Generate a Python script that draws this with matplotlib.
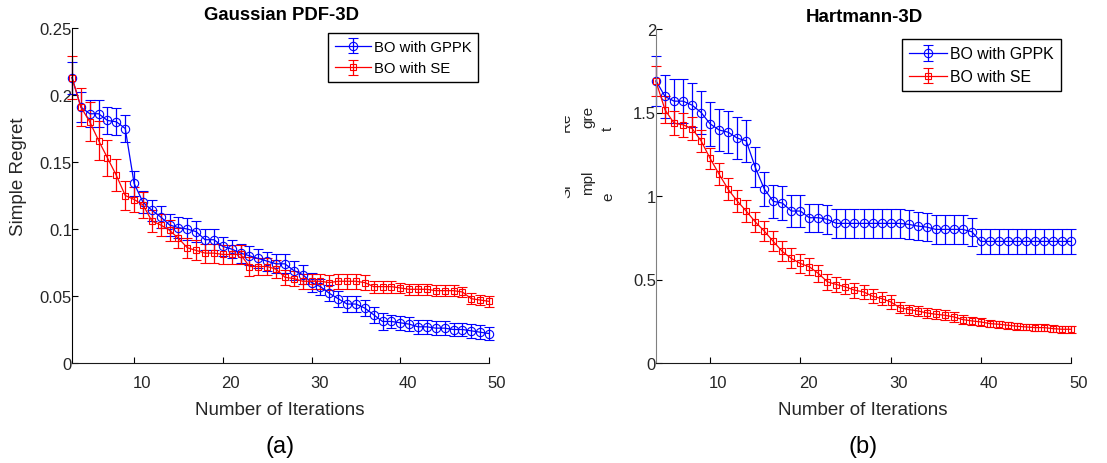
import matplotlib
matplotlib.use("Agg")
import matplotlib.pyplot as plt
from matplotlib.transforms import ScaledTranslation, Bbox, TransformedBbox

plt.rcParams['font.family'] = ['Liberation Sans', 'DejaVu Sans']

# ---- data: (a) Gaussian PDF-3D ----
iters_a = list(range(3, 51))
gppk_a = [0.213, 0.191, 0.186, 0.186, 0.181, 0.180, 0.175, 0.134, 0.120, 0.114,
          0.109, 0.103, 0.101, 0.100, 0.098, 0.092, 0.092, 0.087, 0.085, 0.082,
          0.080, 0.078, 0.076, 0.074, 0.074, 0.069, 0.066, 0.060, 0.057, 0.052,
          0.048, 0.044, 0.044, 0.041, 0.036, 0.031, 0.031, 0.030, 0.029, 0.027,
          0.027, 0.026, 0.026, 0.025, 0.025, 0.024, 0.023, 0.022]
gppk_a_err = [0.012, 0.011, 0.010, 0.010, 0.010, 0.010, 0.010, 0.009, 0.008, 0.008,
              0.008, 0.008, 0.008, 0.008, 0.008, 0.008, 0.008, 0.007, 0.007, 0.007,
              0.007, 0.007, 0.007, 0.007, 0.007, 0.007, 0.007, 0.007, 0.006, 0.006,
              0.006, 0.006, 0.006, 0.006, 0.006, 0.006, 0.005, 0.005, 0.005, 0.005,
              0.005, 0.005, 0.005, 0.005, 0.005, 0.005, 0.005, 0.005]
se_a = [0.213, 0.191, 0.180, 0.166, 0.153, 0.140, 0.125, 0.122, 0.118, 0.106,
        0.103, 0.099, 0.093, 0.086, 0.084, 0.082, 0.082, 0.081, 0.081, 0.081,
        0.072, 0.072, 0.072, 0.070, 0.064, 0.063, 0.061, 0.061, 0.061, 0.060,
        0.061, 0.061, 0.061, 0.060, 0.057, 0.057, 0.057, 0.056, 0.055, 0.055,
        0.055, 0.054, 0.054, 0.054, 0.053, 0.048, 0.047, 0.046]
se_a_err = [0.016, 0.0145, 0.0145, 0.0145, 0.0135, 0.012, 0.0105, 0.0095, 0.0095, 0.008,
            0.008, 0.008, 0.0075, 0.0075, 0.0075, 0.007, 0.007, 0.007, 0.007, 0.007,
            0.007, 0.0065, 0.0065, 0.0065, 0.0055, 0.0055, 0.0055, 0.0055, 0.0055, 0.0055,
            0.0055, 0.0055, 0.0055, 0.0055, 0.0045, 0.0045, 0.0045, 0.004, 0.004, 0.004,
            0.004, 0.004, 0.004, 0.004, 0.004, 0.004, 0.004, 0.004]

# ---- data: (b) Hartmann-3D ----
iters_b = list(range(4, 51))
gppk_b = [1.690, 1.596, 1.568, 1.568, 1.544, 1.500, 1.432, 1.395, 1.382, 1.347,
          1.330, 1.172, 1.042, 0.968, 0.958, 0.910, 0.910, 0.870, 0.870, 0.860,
          0.836, 0.836, 0.836, 0.836, 0.836, 0.836, 0.836, 0.836, 0.830, 0.820,
          0.814, 0.800, 0.800, 0.800, 0.800, 0.786, 0.728, 0.728, 0.728, 0.728,
          0.728, 0.728, 0.728, 0.728, 0.728, 0.728, 0.728]
gppk_b_err = [0.150, 0.130, 0.130, 0.130, 0.130, 0.130, 0.130, 0.125, 0.125, 0.125,
              0.125, 0.120, 0.100, 0.100, 0.100, 0.095, 0.095, 0.085, 0.085, 0.085,
              0.085, 0.085, 0.085, 0.085, 0.085, 0.085, 0.085, 0.085, 0.085, 0.085,
              0.085, 0.085, 0.085, 0.085, 0.085, 0.085, 0.075, 0.075, 0.075, 0.075,
              0.075, 0.075, 0.075, 0.075, 0.075, 0.075, 0.075]
se_b = [1.686, 1.516, 1.436, 1.426, 1.404, 1.330, 1.225, 1.130, 1.040, 0.970,
        0.910, 0.845, 0.790, 0.728, 0.668, 0.626, 0.596, 0.576, 0.536, 0.486,
        0.470, 0.456, 0.436, 0.426, 0.400, 0.386, 0.366, 0.332, 0.320, 0.312,
        0.300, 0.292, 0.286, 0.276, 0.260, 0.252, 0.246, 0.236, 0.232, 0.226,
        0.220, 0.216, 0.212, 0.212, 0.206, 0.202, 0.202]
se_b_err = [0.090, 0.080, 0.070, 0.070, 0.070, 0.065, 0.065, 0.065, 0.065, 0.065,
            0.065, 0.060, 0.060, 0.060, 0.060, 0.060, 0.058, 0.050, 0.050, 0.048,
            0.045, 0.045, 0.045, 0.042, 0.042, 0.040, 0.040, 0.032, 0.030, 0.030,
            0.030, 0.030, 0.030, 0.028, 0.025, 0.025, 0.022, 0.020, 0.020, 0.020,
            0.020, 0.020, 0.020, 0.020, 0.020, 0.020, 0.020]

x_ticks = [10, 20, 30, 40, 50]
yticks_a = [0, 0.05, 0.1, 0.15, 0.2, 0.25]
yticklabels_a = ['0', '0.05', '0.1', '0.15', '0.2', '0.25']
yticks_b = [0, 0.5, 1, 1.5, 2]
yticklabels_b = ['0', '0.5', '1', '1.5', '2']

W, H = 1107, 464
fig = plt.figure(figsize=(W / 100, H / 100), dpi=100)
txt_col = '#262626'


def box(x0, y0, x1, y1):
    # pixel box (top-left origin) -> figure fraction rect
    return [x0 / W, 1 - y1 / H, (x1 - x0) / W, (y1 - y0) / H]


def draw_series(ax, x, y, e, col, mk, ms, label):
    eb = ax.errorbar(x, y, yerr=e, color=col, marker=mk, ms=ms, mfc='none',
                     mec=col, mew=0.8, lw=0.9, elinewidth=0.9, capsize=3.5,
                     capthick=0.9, label=label)
    line, caps, bars = eb.lines
    line.set_clip_on(False)
    for c in caps:
        c.set_clip_on(False)
    for b in bars:
        b.set_clip_on(False)


def style(ax, xlim, ylim, yt, ytl, left_col, leg_size, anchor):
    ax.set_xlim(*xlim)
    ax.set_ylim(*ylim)
    ax.set_xticks(x_ticks)
    ax.set_xticklabels([str(t) for t in x_ticks])
    ax.set_yticks(yt)
    ax.set_yticklabels(ytl)
    for s in ['top', 'right']:
        ax.spines[s].set_visible(False)
    ax.spines['left'].set_color(left_col)
    ax.spines['bottom'].set_color('#1a1a1a')
    ax.tick_params(direction='in', length=4, width=0.8, labelsize=12,
                   labelcolor=txt_col)
    ax.tick_params(axis='y', pad=0)
    ax.tick_params(axis='x', pad=9)
    shift = ScaledTranslation(8 / 100, 0, fig.dpi_scale_trans)
    for lab in ax.get_xticklabels():
        lab.set_transform(lab.get_transform() + shift)
    ax.legend(loc='upper right', bbox_to_anchor=anchor, fontsize=leg_size,
              fancybox=False, edgecolor='black', framealpha=1,
              handlelength=2.4, handletextpad=0.2, borderpad=0.45,
              labelspacing=0.5, borderaxespad=0)


# (a)
ax1 = fig.add_axes(box(72, 29, 489, 364))
draw_series(ax1, iters_a, gppk_a, gppk_a_err, 'blue', 'o', 6, 'BO with GPPK')
draw_series(ax1, iters_a, se_a, se_a_err, 'red', 's', 5, 'BO with SE')
style(ax1, (3, 50), (0, 0.25), yticks_a, yticklabels_a, 'black', 10.7,
      (0.974, 0.984))

# (b)
ax2 = fig.add_axes(box(656, 30, 1071, 364))
draw_series(ax2, iters_b, gppk_b, gppk_b_err, 'blue', 'o', 6, 'BO with GPPK')
draw_series(ax2, iters_b, se_b, se_b_err, 'red', 's', 5, 'BO with SE')
style(ax2, (4, 50), (0, 2), yticks_b, yticklabels_b, '#808080', 11.4,
      (0.976, 0.97))


def ftext(x, y, s, **kw):
    return fig.text(x / W, 1 - y / H, s, ha='center', va='center', **kw)


ftext(281, 16, 'Gaussian PDF-3D', fontsize=13.3, fontweight='bold', color='black')
ftext(864, 17, 'Hartmann-3D', fontsize=13.5, fontweight='bold', color='black')
ftext(280, 411, 'Number of Iterations', fontsize=13.5, color=txt_col)
ftext(863, 411, 'Number of Iterations', fontsize=13.5, color=txt_col)
ftext(280, 447, '(a)', fontsize=17, color='black')
ftext(863, 447, '(b)', fontsize=17, color='black')
ftext(19, 177, 'Simple Regret', fontsize=13.5, color=txt_col, rotation=90)

# broken y label of panel (b)
clip = TransformedBbox(Bbox.from_extents(565 / W, 0, 1, 1), fig.transFigure)
for s, x, y in [('Si', 566, 191), ('Re', 566, 122), ('mpl', 588, 183),
                ('e', 608, 197), ('gre', 588, 117), ('t', 608, 129)]:
    t = ftext(x, y, s, fontsize=11, color=txt_col, rotation=90)
    t.set_clip_box(clip)
    t.set_clip_on(True)

fig.savefig('out.png', dpi=100)
